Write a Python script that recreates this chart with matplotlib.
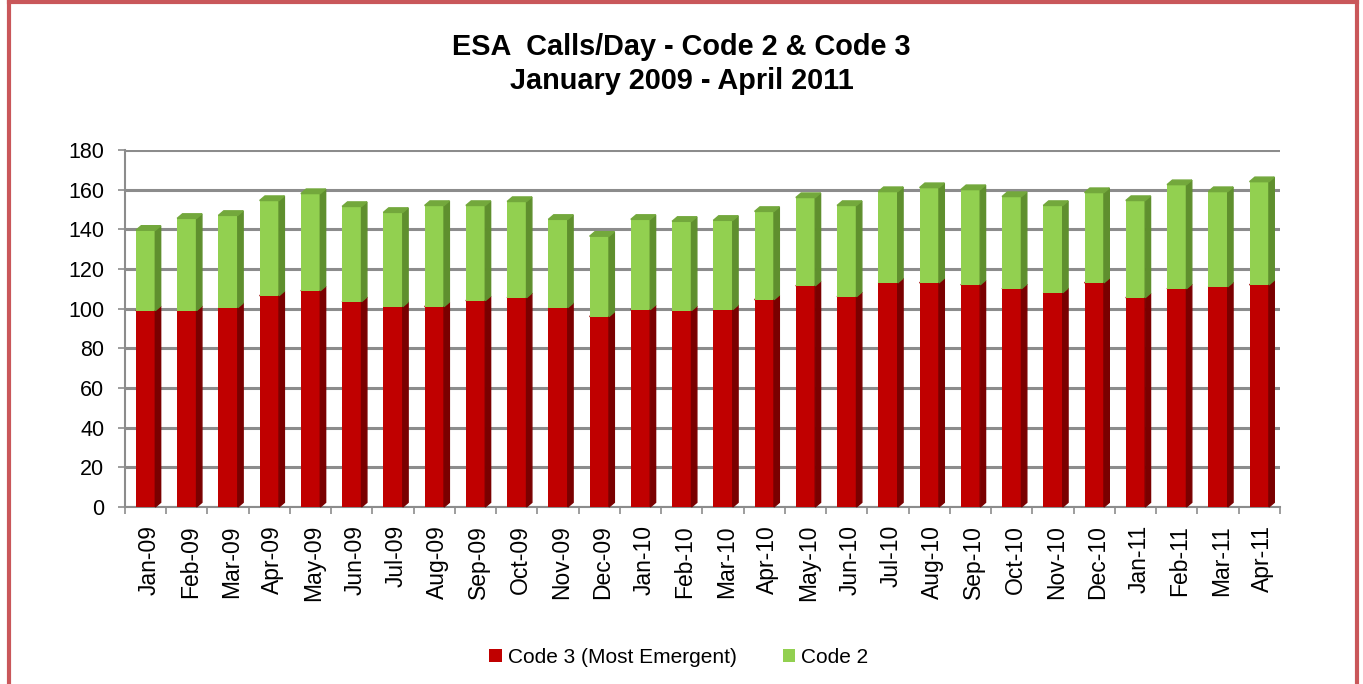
import numpy as np
import matplotlib
matplotlib.use('Agg')
import matplotlib.pyplot as plt
from matplotlib.patches import Polygon
from matplotlib.lines import Line2D

months = ['Jan-09', 'Feb-09', 'Mar-09', 'Apr-09', 'May-09', 'Jun-09', 'Jul-09',
          'Aug-09', 'Sep-09', 'Oct-09', 'Nov-09', 'Dec-09', 'Jan-10', 'Feb-10',
          'Mar-10', 'Apr-10', 'May-10', 'Jun-10', 'Jul-10', 'Aug-10', 'Sep-10',
          'Oct-10', 'Nov-10', 'Dec-10', 'Jan-11', 'Feb-11', 'Mar-11', 'Apr-11']
# Code 3 (most emergent) calls/day
code3 = [99, 99, 100.5, 106.5, 109, 103.5, 101, 101, 104, 105.5, 100.5, 96, 99.5, 99,
         99.5, 104.5, 111.5, 106, 113, 113, 112, 110, 108, 113, 105.5, 110, 111, 112]
# Code 2 calls/day
code2 = [40.5, 46.5, 46.5, 48, 49, 48, 47.5, 51, 48, 48.5, 44.5, 40.5, 45.5, 45,
         45, 44.5, 44.5, 46, 46, 48, 48, 46.5, 44, 45.5, 49, 52.5, 48, 52]

plt.rcParams['font.family'] = ['Liberation Sans', 'DejaVu Sans']

fig = plt.figure(figsize=(13.63, 6.84), dpi=100)
ax = fig.add_axes([0.0917, 0.2588, 0.8473, 0.522])

x = np.arange(len(months))
w = 0.47
dx, dy = 0.13, 2.3
code3 = np.array(code3)
code2 = np.array(code2)
total = code3 + code2

ax.bar(x, code3, w, color='#C00000', label='Code 3 (Most Emergent)', zorder=3)
ax.bar(x, code2, w, bottom=code3, color='#92D050', label='Code 2', zorder=3)

# fake 3d side / top faces
for i in x:
    for b, t, c in [(0, code3[i], '#7A0000'), (code3[i], total[i], '#5F8F2E')]:
        ax.add_patch(Polygon([(i + w / 2, b), (i + w / 2 + dx, b + dy),
                              (i + w / 2 + dx, t + dy), (i + w / 2, t)],
                             closed=True, color=c, zorder=3, clip_on=False))
    ax.add_patch(Polygon([(i - w / 2, total[i]), (i - w / 2 + dx, total[i] + dy),
                          (i + w / 2 + dx, total[i] + dy), (i + w / 2, total[i])],
                         closed=True, color='#73A83C', zorder=3, clip_on=False))
    ax.add_patch(Polygon([(i - w / 2, code3[i]), (i - w / 2 + dx, code3[i] + dy),
                          (i + w / 2 + dx, code3[i] + dy), (i + w / 2, code3[i])],
                         closed=True, color='#A00000', zorder=2.9, clip_on=False))

ax.set_xlim(-0.5, len(months) - 0.5)
ax.set_ylim(0, 180)
ax.set_yticks(range(0, 181, 20))
ax.yaxis.grid(True, color='#8C8C8C', lw=2.2)
ax.set_axisbelow(True)

ax.set_xticks(x + 0.08, months, rotation=90)
ax.set_xticks(np.arange(-0.5, len(months), 1), minor=True)
ax.tick_params(axis='x', which='major', length=0, pad=13, labelsize=16.5)
ax.tick_params(axis='x', which='minor', length=5, color='#8C8C8C', width=1.2)
ax.tick_params(axis='y', length=5, color='#8C8C8C', width=1.2, pad=10, labelsize=15.5)

for s in ['top', 'right']:
    ax.spines[s].set_visible(False)
for s in ['left', 'bottom']:
    ax.spines[s].set_color('#8C8C8C')
    ax.spines[s].set_linewidth(1.5)

fig.text(0.5, 1 - 64 / 684, 'ESA  Calls/Day - Code 2 & Code 3\nJanuary 2009 - April 2011',
         ha='center', va='center', fontsize=20.8, fontweight='bold', linespacing=1.25)

fig.legend(loc='center', bbox_to_anchor=(0.498, 0.039), ncol=2, frameon=False,
           fontsize=15, handlelength=0.6, handleheight=0.6, columnspacing=2.2,
           handletextpad=0.3)

# red frame around the chart
bc = '#C9575A'
fig.add_artist(Line2D([0.0063, 0.0063], [0, 0.997], color=bc, lw=3, transform=fig.transFigure))
fig.add_artist(Line2D([0.9957, 0.9957], [0, 0.997], color=bc, lw=3, transform=fig.transFigure))
fig.add_artist(Line2D([0.0063, 0.9957], [0.997, 0.997], color=bc, lw=3, transform=fig.transFigure))

fig.savefig('out.png', dpi=100)
